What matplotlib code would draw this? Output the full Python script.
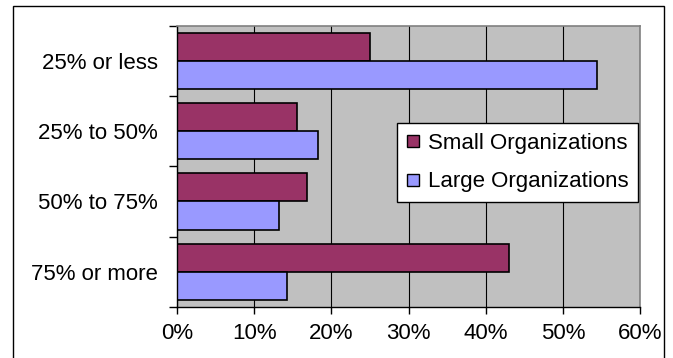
import matplotlib.pyplot as plt
from matplotlib.lines import Line2D
from matplotlib.patches import Rectangle
import numpy as np

plt.rcParams['font.family'] = ['Liberation Sans', 'DejaVu Sans']

# Share of respondents per band, small vs large organizations (%)
categories = ["25% or less", "25% to 50%", "50% to 75%", "75% or more"]
small_orgs = [25, 15.5, 16.8, 43]
large_orgs = [54.4, 18.3, 13.2, 14.2]
xtick_vals = [0, 10, 20, 30, 40, 50, 60]

small_color = "#993366"
large_color = "#9999FF"
fs = 16

W, H = 673, 358
fig = plt.figure(figsize=(W / 100, H / 100), dpi=100)

# chart area border (bottom edge runs off the canvas)
fig.patches.append(Rectangle((13 / W, -0.05), (664 - 13) / W, 1.05 - 6 / H,
                             transform=fig.transFigure, fill=False,
                             edgecolor="black", linewidth=1.0))

left, right, top, bottom = 177, 640, 26, 306.7
ax = fig.add_axes([left / W, 1 - bottom / H, (right - left) / W, (bottom - top) / H])
ax.set_facecolor("#C0C0C0")

y = np.arange(len(categories))[::-1]
h = 0.4
ax.barh(y + h / 2, small_orgs, height=h, color=small_color, edgecolor="black", linewidth=1.2)
ax.barh(y - h / 2, large_orgs, height=h, color=large_color, edgecolor="black", linewidth=1.2)

ax.set_xlim(0, 60)
ax.set_ylim(-0.5, len(categories) - 0.5)

ax.set_xticks(xtick_vals)
ax.set_xticklabels([f"{v}%" for v in xtick_vals], fontsize=fs)
ax.tick_params(axis="x", direction="out", length=5, width=1, pad=7)

ax.set_yticks(np.arange(-0.5, len(categories), 1.0))
ax.set_yticklabels([])
ax.tick_params(axis="y", which="major", direction="out", length=6, width=1)
ax.set_yticks(y, minor=True)
ax.set_yticklabels(categories, minor=True, fontsize=fs)
ax.tick_params(axis="y", which="minor", length=0, pad=14)

ax.set_axisbelow(True)
ax.xaxis.grid(True, color="black", linewidth=0.8)
ax.yaxis.grid(False)

for side in ["top", "right"]:
    ax.spines[side].set_color("#808080")
    ax.spines[side].set_linewidth(1.2)
for side in ["left", "bottom"]:
    ax.spines[side].set_color("black")
    ax.spines[side].set_linewidth(1.0)

handles = [
    Line2D([], [], linestyle="none", marker="s", markersize=8,
           markerfacecolor=small_color, markeredgecolor="black", markeredgewidth=1),
    Line2D([], [], linestyle="none", marker="s", markersize=8,
           markerfacecolor=large_color, markeredgecolor="black", markeredgewidth=1),
]
leg = fig.legend(handles, ["Small Organizations", "Large Organizations"],
                 loc="upper left", bbox_to_anchor=(396.7 / W, 1 - 122.7 / H),
                 bbox_transform=fig.transFigure, fontsize=fs, frameon=True,
                 fancybox=False, framealpha=1, borderaxespad=0,
                 borderpad=0.45, labelspacing=0.8, handlelength=0.6,
                 handletextpad=0.35)
leg.get_frame().set_edgecolor("black")
leg.get_frame().set_linewidth(1.0)

fig.savefig("out.png", dpi=100)
